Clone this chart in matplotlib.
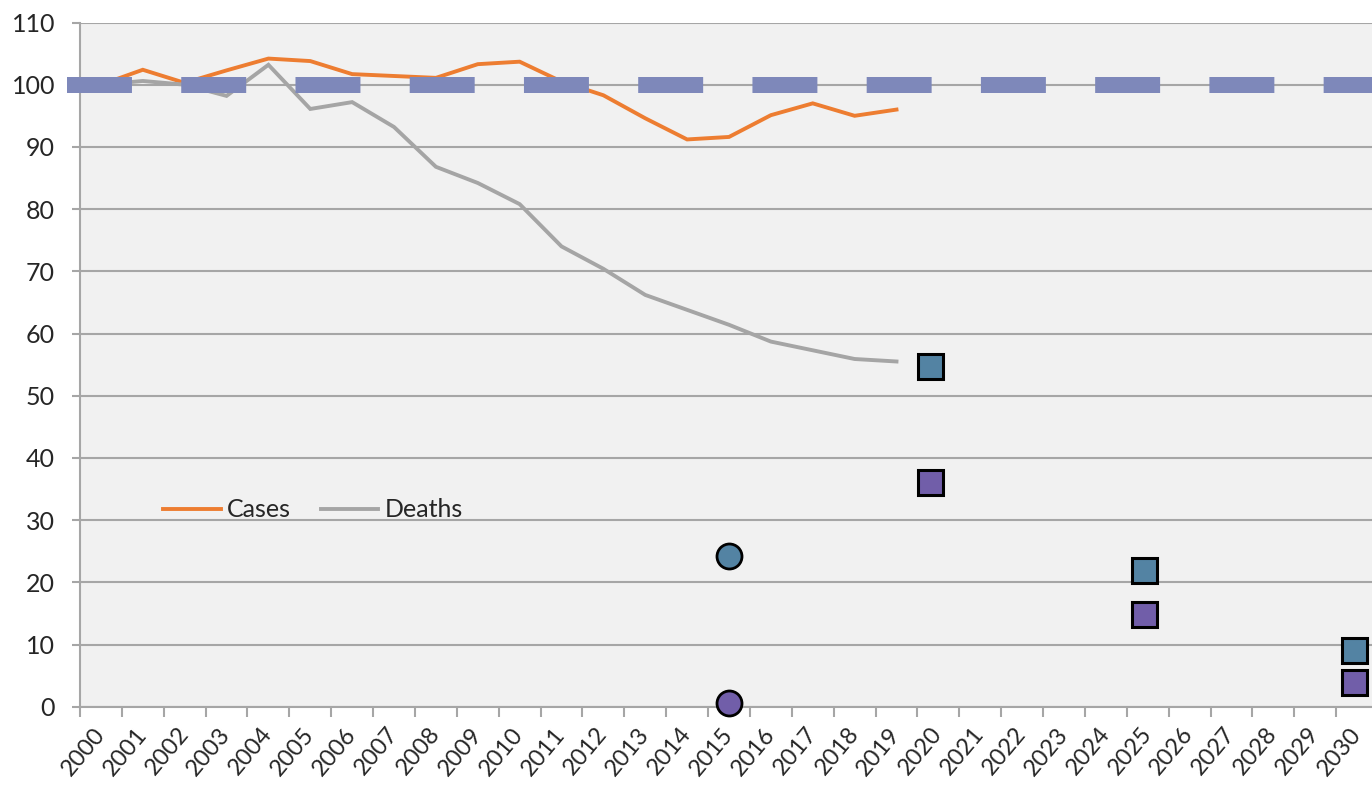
import numpy as np
import matplotlib
matplotlib.use("Agg")
import matplotlib.pyplot as plt

plt.rcParams['font.family'] = ['Lato', 'DejaVu Sans']

# categories on the x axis
years = list(range(2000, 2031))

# observed series (index, 2000 = 100)
obs_years = list(range(2000, 2020))
cases = [100.0, 102.4, 100.3, 102.3, 104.2, 103.8, 101.7, 101.4, 101.1, 103.3,
         103.7, 100.5, 98.3, 94.6, 91.2, 91.6, 95.1, 97.0, 95.0, 96.0]
deaths = [100.0, 100.6, 100.0, 98.2, 103.2, 96.1, 97.2, 93.2, 86.8, 84.2,
          80.8, 74.0, 70.4, 66.2, 63.8, 61.4, 58.7, 57.3, 55.9, 55.5]

# baseline
baseline = 100

# milestones / targets
milestone_year = [2015]
milestone_teal = [24.2]
milestone_purple = [0.6]
target_years = [2019.8, 2024.9, 2029.93]
target_teal = [54.7, 22.0, 9.1]
target_purple = [36.2, 14.9, 4.0]

c_orange = '#ed7d31'
c_gray = '#a5a5a5'
c_dash = '#7e88ba'
c_teal = '#5383a3'
c_purple = '#715ea9'
c_grid = '#a6a6a6'

W, H = 1372, 787
fig = plt.figure(figsize=(W / 100, H / 100), dpi=100)
left, right = 80 / W, 1378 / W
bottom, top = (H - 706.7) / H, (H - 22.5) / H
ax = fig.add_axes([left, bottom, right - left, top - bottom])
ax.set_facecolor('#f1f1f1')

def pos(y):
    return np.asarray(y, dtype=float) - 2000

ax.set_xlim(-0.5, 30.5)
ax.set_ylim(0, 110)

ax.plot(pos(obs_years), cases, color=c_orange, lw=2.8, zorder=3,
        solid_joinstyle='miter', label='Cases')
ax.plot(pos(obs_years), deaths, color=c_gray, lw=2.8, zorder=3,
        solid_joinstyle='miter', label='Deaths')

ax.hlines(baseline, -0.81, 31.5, colors=c_dash, lw=11.52, zorder=4,
          linestyles=(0, (4.06, 3.08)), clip_on=False, capstyle='butt')

ax.plot(pos(milestone_year), milestone_teal, 'o', ms=18, mfc=c_teal,
        mec='black', mew=2.0, zorder=6, clip_on=False)
ax.plot(pos(milestone_year), milestone_purple, 'o', ms=18, mfc=c_purple,
        mec='black', mew=2.0, zorder=6, clip_on=False)
ax.plot(pos(target_years), target_teal, 's', ms=18, mfc=c_teal,
        mec='black', mew=2.2, zorder=6, clip_on=False)
ax.plot(pos(target_years), target_purple, 's', ms=18, mfc=c_purple,
        mec='black', mew=2.2, zorder=6, clip_on=False)

# axes styling
for s in ['top', 'right']:
    ax.spines[s].set_visible(False)
for s in ['left', 'bottom']:
    ax.spines[s].set_color(c_grid)
    ax.spines[s].set_linewidth(1.5)

ax.set_yticks(np.arange(0, 111, 10))
ax.yaxis.grid(True, color=c_grid, lw=1.5)
ax.set_axisbelow(True)
ax.tick_params(axis='y', length=6, width=1.5, color=c_grid, pad=12,
               labelsize=18, labelcolor='#262626')

ax.set_xticks(pos(years))
ax.set_xticklabels([str(y) for y in years], rotation=50, ha='right',
                   va='center', rotation_mode='anchor')
ax.tick_params(axis='x', which='major', length=0, pad=17, labelsize=17,
               labelcolor='#262626')
ax.set_xticks(np.arange(-0.5, 31, 1), minor=True)
ax.tick_params(axis='x', which='minor', length=7, width=1.5, color=c_grid)

leg = ax.legend(loc='center left', bbox_to_anchor=(0.064, 0.2875), ncol=2,
                frameon=False, fontsize=18, handlelength=2.3,
                handletextpad=0.25, columnspacing=1.2, borderpad=0,
                borderaxespad=0)
for t in leg.get_texts():
    t.set_color('#262626')

fig.savefig('out.png', dpi=100)
